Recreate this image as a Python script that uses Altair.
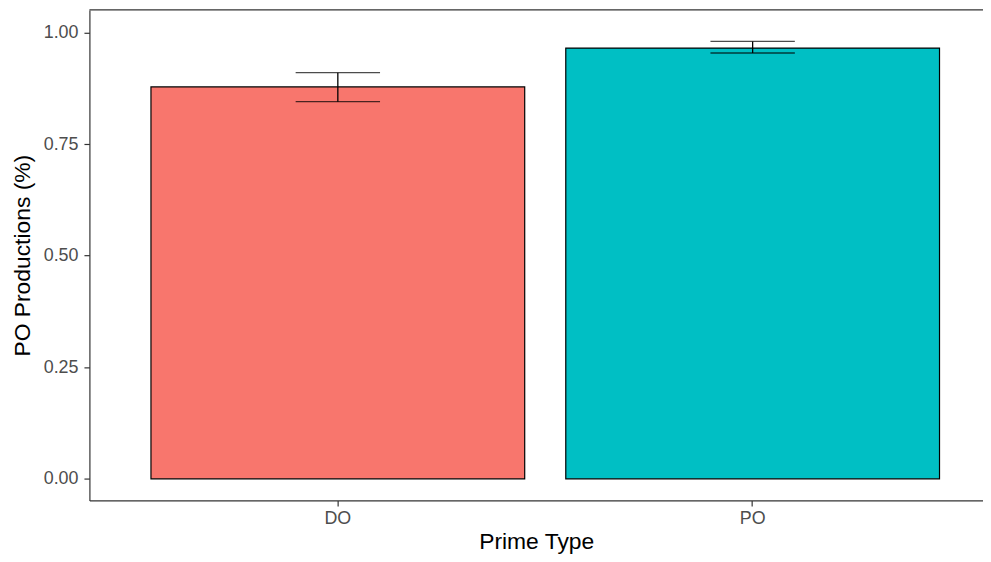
import altair as alt
import pandas as pd

categories = ["DO", "PO"]
means = [0.878, 0.965]
lower = [0.845, 0.954]
upper = [0.910, 0.980]
colors = ["#F8766D", "#00BFC4"]

df = pd.DataFrame({"type": categories, "mean": means, "lo": lower, "hi": upper})

W, H = 900, 494
ydomain = [-0.0485, 1.0505]

xscale = alt.Scale(domain=categories, paddingInner=0.099, paddingOuter=0.1266, align=0.586)
yscale = alt.Scale(domain=ydomain, nice=False, zero=False)

xaxis = alt.Axis(title="Prime Type", labelAngle=0, domainColor="#333333", tickColor="#333333",
                 tickSize=5.5, labelPadding=4, labelFontSize=18, labelColor="#4D4D4D",
                 titleFontSize=23, titleColor="#000000", titleFontWeight="normal", titlePadding=3,
                 labelFont="Liberation Sans", titleFont="Liberation Sans", grid=False)
yaxis = alt.Axis(title="PO Productions (%)", values=[0, 0.25, 0.5, 0.75, 1.0], format=".2f",
                 domainColor="#333333", tickColor="#333333", tickSize=5.5, labelPadding=6,
                 labelFontSize=18, labelColor="#4D4D4D", titleFontSize=23, titleColor="#000000",
                 titleFontWeight="normal", titlePadding=9, labelFont="Liberation Sans",
                 titleFont="Liberation Sans", grid=False)

base = alt.Chart(df)

bars = base.mark_bar(stroke="black", strokeWidth=1.2).encode(
    x=alt.X("type:N", scale=xscale, axis=xaxis, sort=categories),
    y=alt.Y("mean:Q", scale=yscale, axis=yaxis),
    color=alt.Color("type:N", scale=alt.Scale(domain=categories, range=colors), legend=None),
)

stem = base.mark_rule(color="black", strokeWidth=1.3).encode(
    x=alt.X("type:N", scale=xscale, sort=categories),
    y=alt.Y("lo:Q", scale=yscale),
    y2="hi:Q",
)

cap_hi = base.mark_tick(color="black", size=85, thickness=1.3).encode(
    x=alt.X("type:N", scale=xscale, sort=categories),
    y=alt.Y("hi:Q", scale=yscale),
)
cap_lo = base.mark_tick(color="black", size=85, thickness=1.3).encode(
    x=alt.X("type:N", scale=xscale, sort=categories),
    y=alt.Y("lo:Q", scale=yscale),
)

top_border = alt.Chart(pd.DataFrame({"a": [0]})).mark_rule(color="#333333", strokeWidth=1.2).encode(
    x=alt.value(0), x2=alt.value(W), y=alt.value(0)
)

chart = alt.layer(bars, stem, cap_hi, cap_lo, top_border).properties(
    width=W, height=H,
    autosize=alt.AutoSizeParams(type="none"),
    padding={"left": 82, "top": 0, "right": 0, "bottom": 52},
).configure_view(stroke=None).configure_axis(domainWidth=1.2, tickWidth=1.2)

chart.save("out.html", embed_options={"renderer": "svg", "actions": False})
